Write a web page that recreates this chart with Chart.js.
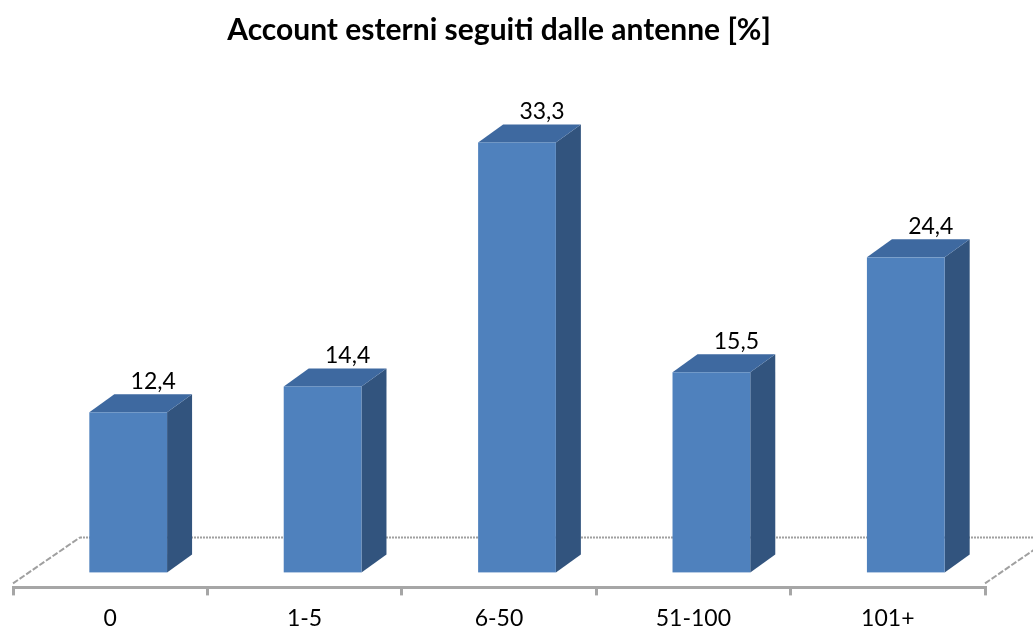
<!DOCTYPE html>
<html>
<head>
<meta charset="utf-8">
<script src="https://cdn.jsdelivr.net/npm/chart.js@4.4.1/dist/chart.umd.min.js"></script>
<style>
  html, body { margin: 0; padding: 0; background: #fff; }
  #wrap { width: 1033px; height: 628px; }
</style>
</head>
<body>
<div id="wrap"><canvas id="my_chart"></canvas></div>
<script>
// data
const categories = ['0', '1-5', '6-50', '51-100', '101+'];
const percent_values = [12.4, 14.4, 33.3, 15.5, 24.4];
const chart_title = 'Account esterni seguiti dalle antenne [%]';

// 3d look
const FRONT = '#4F81BD';
const TOP = '#3E69A0';
const SIDE = '#32547E';
const SHIFT_X = 18, SHIFT_Y = -15;   // front face of the bars vs. axis plane
const DEPTH_X = 25, DEPTH_Y = 18;    // bar depth
const FLOOR_X = 67, FLOOR_Y = 50;    // floor depth

const fmt = v => v.toFixed(1).replace('.', ',');

const bars3d = {
  id: 'bars3d',
  beforeDatasetsDraw(chart) {
    const ctx = chart.ctx;
    const a = chart.chartArea;
    ctx.save();
    ctx.strokeStyle = '#A0A0A0';
    ctx.lineWidth = 2;
    ctx.setLineDash([2, 1]);
    ctx.beginPath();
    ctx.moveTo(a.left + FLOOR_X, a.bottom - FLOOR_Y);
    ctx.lineTo(a.right + FLOOR_X, a.bottom - FLOOR_Y);
    ctx.stroke();
    ctx.setLineDash([6, 2]);
    ctx.beginPath();
    ctx.moveTo(a.left, a.bottom - 4);
    ctx.lineTo(a.left + FLOOR_X, a.bottom - FLOOR_Y);
    ctx.moveTo(a.right, a.bottom - 4);
    ctx.lineTo(a.right + FLOOR_X, a.bottom - FLOOR_Y);
    ctx.stroke();
    ctx.restore();
  },
  afterDatasetsDraw(chart) {
    const ctx = chart.ctx;
    const meta = chart.getDatasetMeta(0);
    ctx.save();
    meta.data.forEach((bar, i) => {
      const p = bar.getProps(['x', 'y', 'base', 'width'], true);
      const l = p.x - p.width / 2 + SHIFT_X;
      const r = p.x + p.width / 2 + SHIFT_X;
      const t = p.y + SHIFT_Y;
      const b = p.base + SHIFT_Y;
      // side
      ctx.fillStyle = SIDE;
      ctx.beginPath();
      ctx.moveTo(r, t);
      ctx.lineTo(r + DEPTH_X, t - DEPTH_Y);
      ctx.lineTo(r + DEPTH_X, b - DEPTH_Y);
      ctx.lineTo(r, b);
      ctx.closePath();
      ctx.fill();
      // top
      ctx.fillStyle = TOP;
      ctx.beginPath();
      ctx.moveTo(l, t);
      ctx.lineTo(l + DEPTH_X, t - DEPTH_Y);
      ctx.lineTo(r + DEPTH_X, t - DEPTH_Y);
      ctx.lineTo(r, t);
      ctx.closePath();
      ctx.fill();
      // front
      ctx.fillStyle = FRONT;
      ctx.fillRect(l, t, r - l, b - t);
      // value label
      ctx.fillStyle = '#000';
      ctx.font = '23px Lato, "Open Sans", sans-serif';
      ctx.textAlign = 'center';
      ctx.textBaseline = 'bottom';
      ctx.fillText(fmt(percent_values[i]), (l + r) / 2 + DEPTH_X, t - DEPTH_Y - 1);
    });
    ctx.restore();
  }
};

const ctx = document.getElementById('my_chart').getContext('2d');
const my_chart = new Chart(ctx, {
  type: 'bar',
  data: {
    labels: categories,
    datasets: [{
      label: chart_title,
      data: percent_values,
      backgroundColor: 'rgba(0,0,0,0)',
      borderWidth: 0,
      categoryPercentage: 1.0,
      barPercentage: 0.4
    }]
  },
  options: {
    responsive: true,
    maintainAspectRatio: false,
    animation: false,
    events: [],
    layout: { padding: { left: 13, right: 48, top: 0, bottom: -13 } },
    scales: {
      x: {
        border: { display: true, color: '#A6A6A6', width: 3 },
        grid: { display: true, drawOnChartArea: false, color: '#A6A6A6', lineWidth: 3, tickLength: 8 },
        ticks: { color: '#000', padding: 9, font: { family: 'Lato, "Open Sans", sans-serif', size: 23 } }
      },
      y: {
        display: false,
        min: 0,
        max: 35
      }
    },
    plugins: {
      legend: { display: false },
      tooltip: { enabled: false },
      title: {
        display: true,
        text: chart_title,
        color: '#000',
        font: { family: 'Lato, "Open Sans", sans-serif', size: 30, weight: 'bold' },
        padding: { top: 12, bottom: 87.5 }
      }
    }
  },
  plugins: [bars3d]
});
</script>
</body>
</html>
